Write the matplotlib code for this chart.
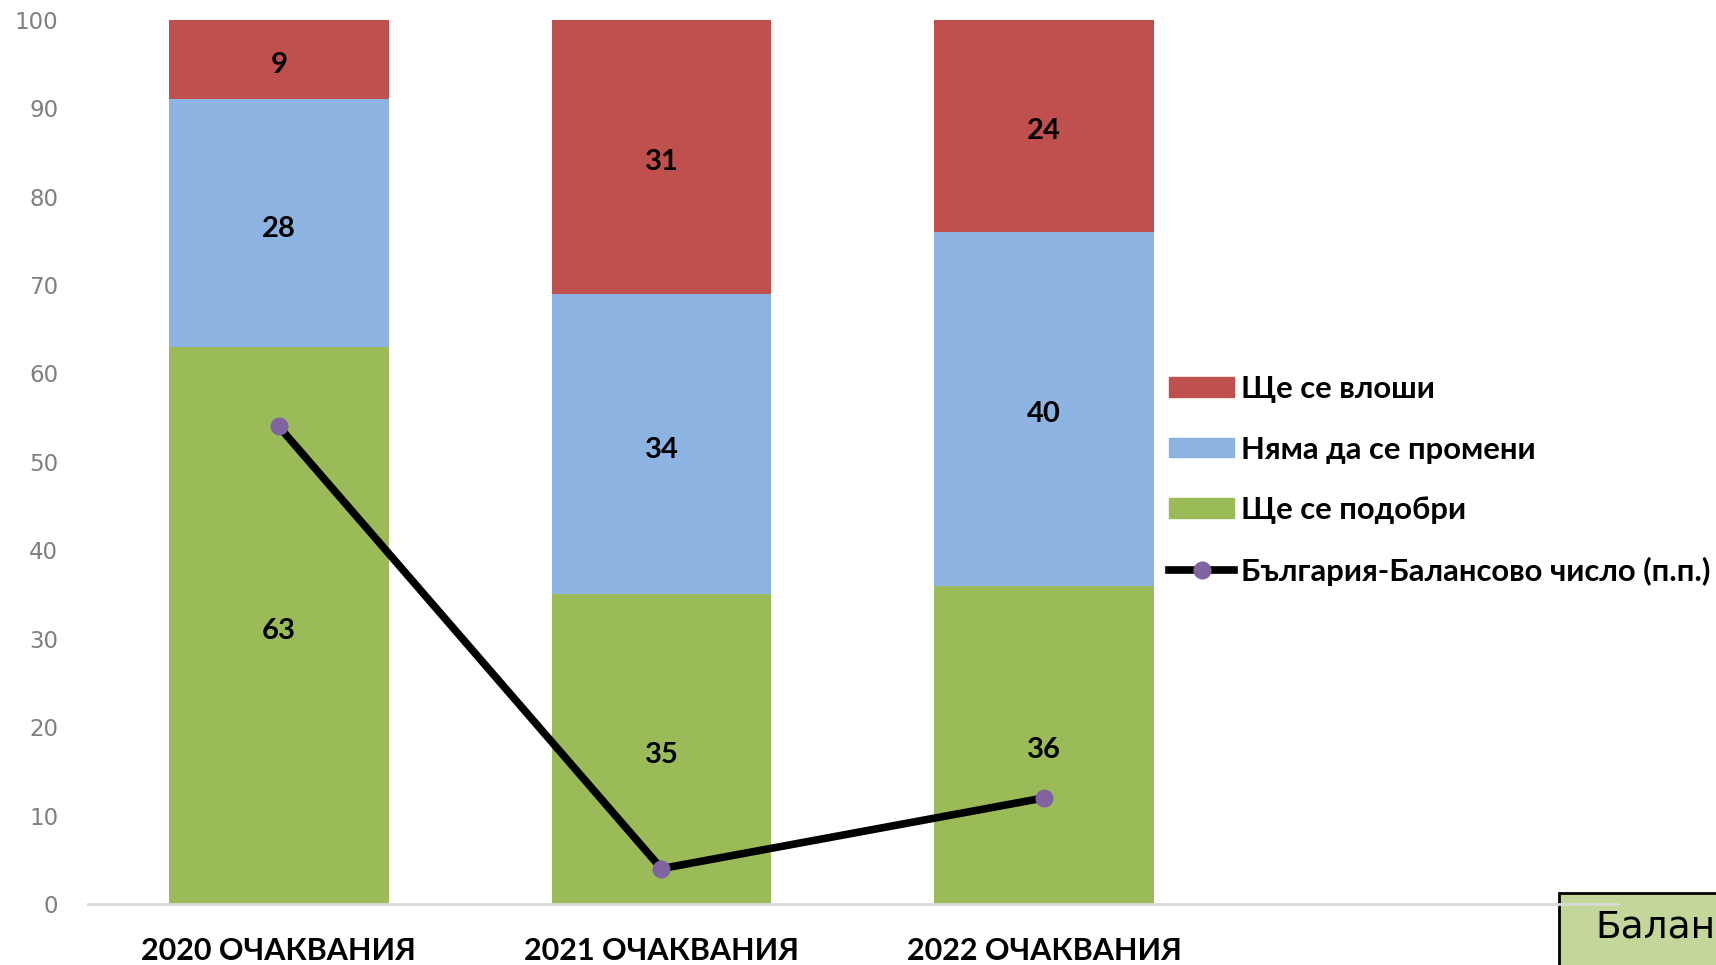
import matplotlib
matplotlib.use("Agg")
import matplotlib.pyplot as plt
from matplotlib.patches import Rectangle, Patch
from matplotlib.lines import Line2D

categories = ["2020 ОЧАКВАНИЯ", "2021 ОЧАКВАНИЯ", "2022 ОЧАКВАНИЯ"]
improve = [63, 35, 36]
same = [28, 34, 40]
worse = [9, 31, 24]
balance = [54, 4, 12]
yticks = [0, 10, 20, 30, 40, 50, 60, 70, 80, 90, 100]

labels_series = ["Ще се влоши", "Няма да се промени", "Ще се подобри", "България-Балансово число (п.п.)"]
box_text = "Балан"

c_red = "#C0504D"
c_blue = "#8DB3E2"
c_green = "#9BBB59"
c_purple = "#8064A2"

fig = plt.figure(figsize=(17.16, 9.65), dpi=100)
ax = fig.add_axes([87.5/1716, 1-904/965, (1618-87.5)/1716, (904-19.7)/965])
ax.set_facecolor("none")

x = list(range(len(categories)))
w = 0.574
bottom2 = [a + b for a, b in zip(improve, same)]
ax.bar(x, improve, width=w, color=c_green, zorder=2)
ax.bar(x, same, width=w, bottom=improve, color=c_blue, zorder=2)
ax.bar(x, worse, width=w, bottom=bottom2, color=c_red, zorder=2)
ax.plot(x, balance, color="black", lw=5.5, marker="o", markersize=12,
        markerfacecolor=c_purple, markeredgecolor=c_purple, zorder=4)

lab_font = dict(family=["Lato", "DejaVu Sans"], fontsize=21, fontweight="bold", color="black")
def seg_label(xi, yc, val):
    ax.annotate(str(val), (xi, yc), xytext=(0, -4), textcoords="offset points",
                ha="center", va="center", zorder=5, **lab_font)
for i in x:
    seg_label(i, improve[i]/2, improve[i])
    seg_label(i, improve[i] + same[i]/2, same[i])
    seg_label(i, bottom2[i] + worse[i]/2, worse[i])

ax.set_xlim(-0.5, 3.5)
ax.set_ylim(0, 100)
ax.set_yticks(yticks)
ax.set_yticklabels([str(t) for t in yticks], fontsize=16.5, color="#7f7f7f", family="DejaVu Sans")
ax.set_xticks(x)
ax.set_xticklabels(categories, fontsize=22, fontweight="bold",
                   family=["Lato", "DejaVu Sans"])
ax.tick_params(axis="y", length=0, pad=21)
ax.tick_params(axis="x", length=0, pad=24)
for s in ["left", "right", "top"]:
    ax.spines[s].set_visible(False)
ax.spines["bottom"].set_color("#D9D9D9")
ax.spines["bottom"].set_linewidth(2)
ax.spines["bottom"].set_zorder(6)

handles = [Patch(color=c_red), Patch(color=c_blue), Patch(color=c_green),
           Line2D([0], [0], color="black", lw=5.5, marker="o", markersize=12,
                  markerfacecolor=c_purple, markeredgecolor=c_purple)]
leg = fig.legend(handles, labels_series, loc="upper left",
                 bbox_to_anchor=(1169/1716, 1-375/965), frameon=False,
                 borderpad=0, borderaxespad=0, handlelength=2.1, handleheight=0.6,
                 handletextpad=0.21, labelspacing=1.05,
                 prop=dict(family=["Lato", "DejaVu Sans"], size=22.3, weight="bold"))

rect = Rectangle((1559/1716, -0.1), 0.2, 0.1 + (1-893/965), transform=fig.transFigure,
                 facecolor="#C4D79B", edgecolor="black", linewidth=2, zorder=-1)
fig.patches.append(rect)
fig.text(1595/1716, 1-938/965, box_text, fontsize=27,
         family=["DejaVu Sans"], va="baseline", ha="left", zorder=10)

fig.savefig("out.png", dpi=100)
